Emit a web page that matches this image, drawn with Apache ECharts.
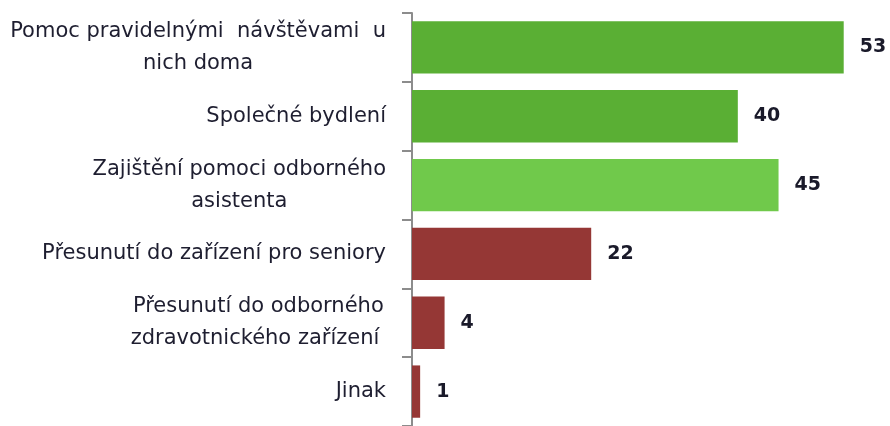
<!DOCTYPE html>
<html>
<head>
<meta charset="utf-8">
<script src="https://cdn.jsdelivr.net/npm/echarts@6/dist/echarts.min.js"></script>
<style>
  html, body { margin: 0; padding: 0; background: #fff; }
  #chart { width: 890px; height: 426px; }
</style>
</head>
<body>
<div id="chart"></div>
<script>
// categories, top to bottom
const categories = [
  "Pomoc pravidelnými  návštěvami  u\nnich doma",
  "Společné bydlení",
  "Zajištění pomoci odborného\nasistenta",
  "Přesunutí do zařízení pro seniory",
  "Přesunutí do odborného\nzdravotnického zařízení ",
  "Jinak",
];
const values = [53, 40, 45, 22, 4, 1];
const barColors = ["#5aaf34", "#5aaf34", "#70c94b", "#953735", "#953735", "#953735"];

const chart = echarts.init(document.getElementById("chart"));

chart.setOption({
  animation: false,
  backgroundColor: "#fff",
  grid: { left: 412, right: 30, top: 13, bottom: -6 },
  xAxis: {
    type: "value",
    min: 0,
    max: 55,
    show: false,
  },
  yAxis: {
    type: "category",
    inverse: true,
    data: categories,
    axisLine: { show: true, lineStyle: { color: "#8c8c8c", width: 2 } },
    axisTick: { show: true, length: 10, lineStyle: { color: "#8c8c8c", width: 2 } },
    axisLabel: {
      margin: 26,
      color: "#1e1e30",
      fontFamily: "DejaVu Sans",
      fontSize: 21,
      lineHeight: 32,
      formatter: (v) => v.split("\n").map((line) => `{c|${line}}`).join("\n"),
      rich: {
        c: { align: "center", fontFamily: "DejaVu Sans", fontSize: 21, lineHeight: 32, color: "#1e1e30" },
      },
    },
  },
  series: [
    {
      type: "bar",
      barCategoryGap: "24%",
      data: values.map((v, i) => ({ value: v, itemStyle: { color: barColors[i] } })),
      label: {
        show: true,
        position: "right",
        distance: 16,
        color: "#1a1a2a",
        fontFamily: "DejaVu Sans",
        fontWeight: "bold",
        fontSize: 19,
      },
    },
  ],
});
</script>
</body>
</html>
